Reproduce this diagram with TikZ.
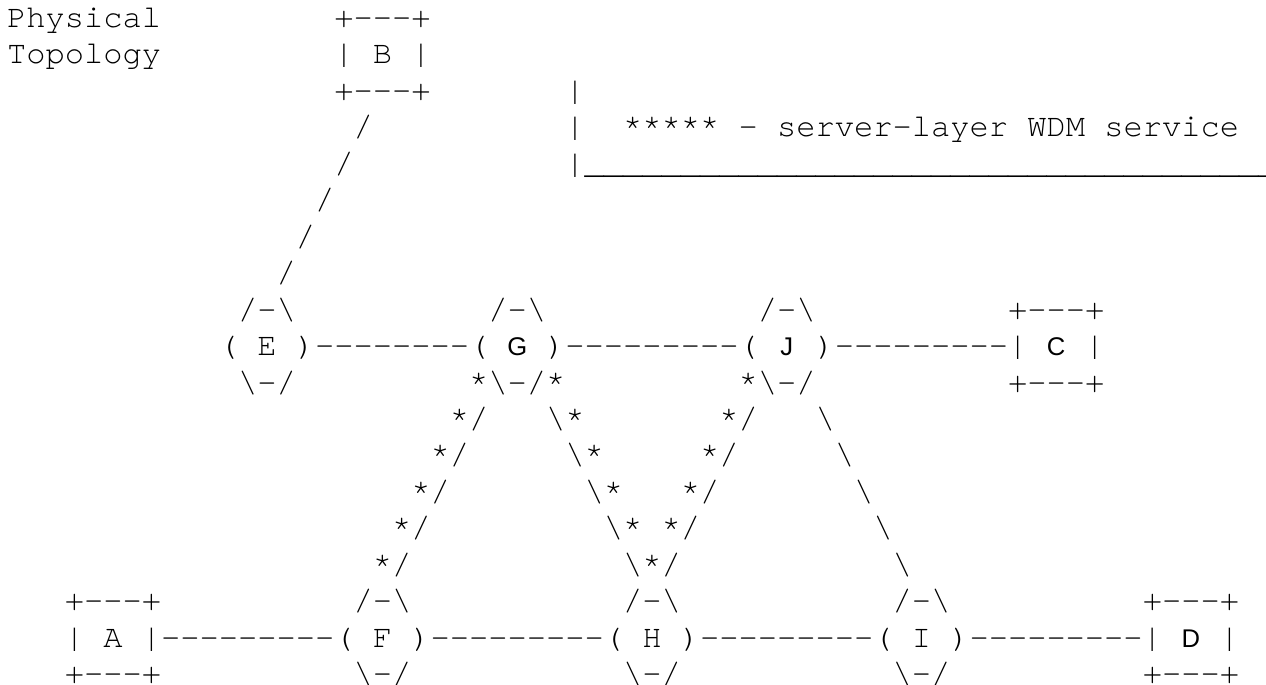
\documentclass[tikz,border=0pt]{standalone}
\usepackage{fontspec}
\setmonofont{texgyrecursor-regular.otf}
\newfontfamily\sanslet{Liberation Sans}
\newcommand\bsl{\char"5C\relax}
\newcommand\us{\char"5F\relax}
\newcommand\usten{\us\us\us\us\us\us\us\us\us\us}
\tikzset{
  txt/.style={anchor=base west,inner sep=0pt,outer sep=0pt,
    font={\ttfamily\fontsize{32.08pt}{36.4pt}\selectfont}},
  let/.style={anchor=base,inner sep=0pt,outer sep=0pt,
    font={\sanslet\fontsize{25.6pt}{30pt}\selectfont}}
}
% #1 name, #2 column, #3 row, #4 text
\newcommand\tx[4]{\node[txt] (#1) at ({7.1+19.25*#2},{27.5+36.45*#3}) {#4};}
\newcommand\lt[4]{\node[let] (#1) at ({7.1+19.25*(#2+0.5)},{27.5+36.45*#3}) {#4};}
\begin{document}
\begin{tikzpicture}[x=1pt,y=-1pt]
\useasboundingbox[fill=white] (0,0) rectangle (1266,685);
% title and node B
\tx{phys}{0}{0}{Physical}
\tx{Btop}{17}{0}{+---+}
\tx{topo}{0}{1}{Topology}
\tx{B}{17}{1}{| B |}
\tx{Bbot}{17}{2}{+---+}
% legend
\tx{leg1}{29}{2}{|}
\tx{leg2}{29}{3}{|}
\tx{legtext}{32}{3}{***** - server-layer WDM service}
\tx{leg3}{29}{4}{|\usten\usten\usten\us\us\us\us\us\us\us\us}
% link B - E
\tx{be1}{18}{3}{/}
\tx{be2}{17}{4}{/}
\tx{be3}{16}{5}{/}
\tx{be4}{15}{6}{/}
\tx{be5}{14}{7}{/}
% upper row
\tx{Etop}{12}{8}{/-\bsl}
\tx{Gtop}{25}{8}{/-\bsl}
\tx{Jtop}{39}{8}{/-\bsl}
\tx{Ctop}{52}{8}{+---+}
\tx{E}{11}{9}{( E )--------(}
\lt{G}{26}{9}{G}
\tx{GJ}{28}{9}{)---------(}
\lt{J}{40}{9}{J}
\tx{JC}{42}{9}{)---------|}
\lt{C}{54}{9}{C}
\tx{Cr}{56}{9}{|}
\tx{Ebot}{12}{10}{\bsl-/}
\tx{Gbot}{24}{10}{*\bsl-/*}
\tx{Jbot}{38}{10}{*\bsl-/}
\tx{Cbot}{52}{10}{+---+}
% diagonals
\tx{gf1}{23}{11}{*/}
\tx{gh1}{28}{11}{\bsl*}
\tx{jh1}{37}{11}{*/}
\tx{ji1}{42}{11}{\bsl}
\tx{gf2}{22}{12}{*/}
\tx{gh2}{29}{12}{\bsl*}
\tx{jh2}{36}{12}{*/}
\tx{ji2}{43}{12}{\bsl}
\tx{gf3}{21}{13}{*/}
\tx{gh3}{30}{13}{\bsl*}
\tx{jh3}{35}{13}{*/}
\tx{ji3}{44}{13}{\bsl}
\tx{gf4}{20}{14}{*/}
\tx{gh4}{31}{14}{\bsl*}
\tx{jh4}{34}{14}{*/}
\tx{ji4}{45}{14}{\bsl}
\tx{gf5}{19}{15}{*/}
\tx{ghj5}{32}{15}{\bsl*/}
\tx{ji5}{46}{15}{\bsl}
% lower row
\tx{Atop}{3}{16}{+---+}
\tx{Ftop}{18}{16}{/-\bsl}
\tx{Htop}{32}{16}{/-\bsl}
\tx{Itop}{46}{16}{/-\bsl}
\tx{Dtop}{59}{16}{+---+}
\tx{A}{3}{17}{| A |---------( F )---------( H )---------( I )---------|}
\lt{D}{61}{17}{D}
\tx{Dr}{63}{17}{|}
\tx{Abot}{3}{18}{+---+}
\tx{Fbot}{18}{18}{\bsl-/}
\tx{Hbot}{32}{18}{\bsl-/}
\tx{Ibot}{46}{18}{\bsl-/}
\tx{Dbot}{59}{18}{+---+}
\end{tikzpicture}
\end{document}
